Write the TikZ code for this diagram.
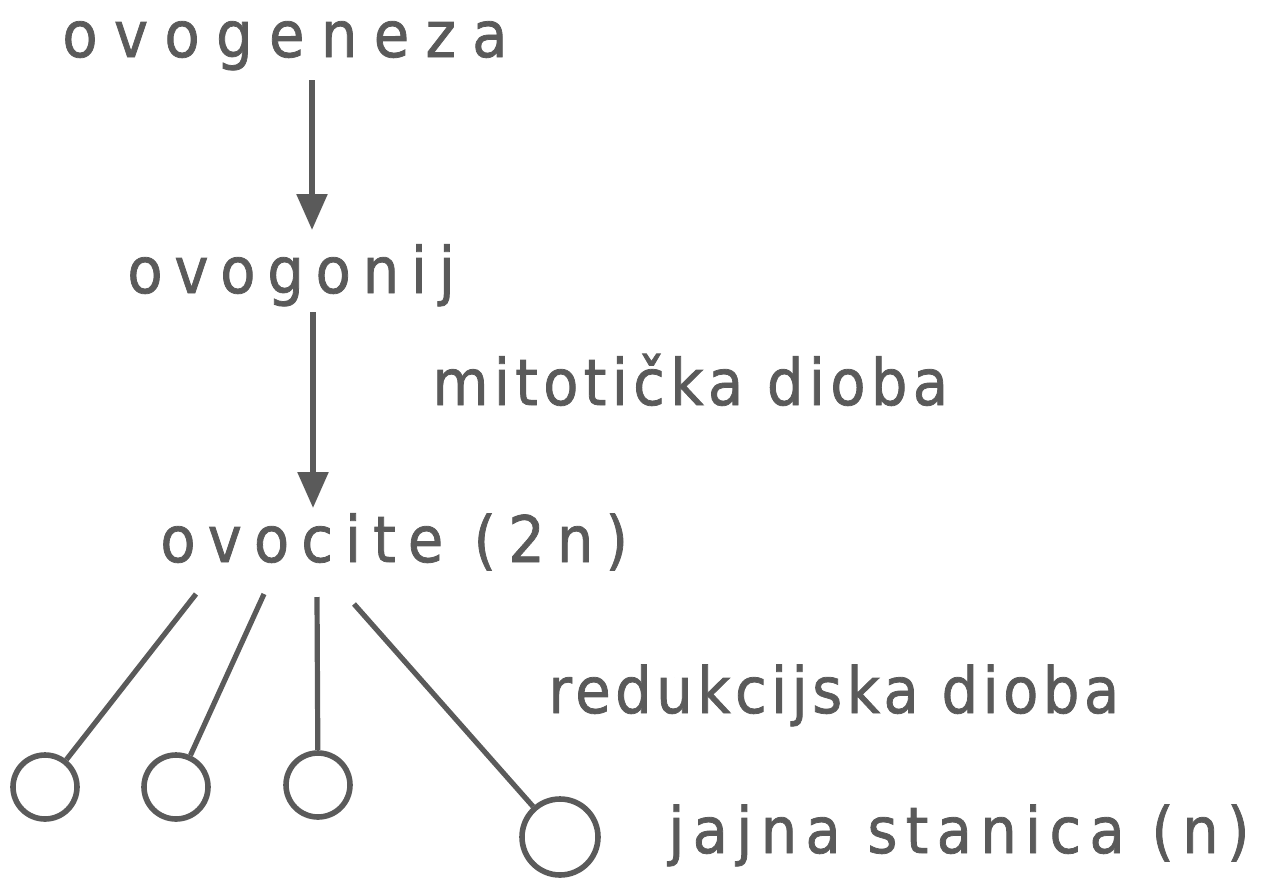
\documentclass[tikz,border=0pt]{standalone}
\usepackage{fontspec}
\setmainfont{DejaVu Sans}[FakeStretch=0.9,FakeBold=1.2]
\usetikzlibrary{arrows.meta}
\definecolor{ink}{RGB}{90,90,90}
\tikzset{
  lbl/.style={text=ink, inner sep=0pt, anchor=base west, font=\fontsize{32}{36}\selectfont},
  flow/.style={draw=ink, line width=2.8pt, -{Triangle[width=15pt,length=18pt]}},
  stem/.style={draw=ink, line width=2.6pt},
  cell/.style={circle, draw=ink, line width=2.8pt, inner sep=0pt, minimum size=#1},
}
\begin{document}
\begin{tikzpicture}[x=0.5pt,y=-0.5pt]
\useasboundingbox (0,0) rectangle (1262,878);
% labels
\node[lbl] (geneza)  at (62,57)   {\addfontfeature{LetterSpace=25.6}ovogeneza};
\node[lbl] (gonij)   at (127,293) {\addfontfeature{LetterSpace=18.4}ovogonij};
\node[lbl] (mitoza)  at (432,405) {\addfontfeature{LetterSpace=8.4}mitotička dioba};
\node[lbl] (ocite)   at (160,562) {\addfontfeature{LetterSpace=18.9}ovocite (2n)};
\node[lbl] (redukc)  at (548,713) {\addfontfeature{LetterSpace=7}redukcijska dioba};
\node[lbl] (jajna)   at (668,853) {\addfontfeature{LetterSpace=13}jajna stanica (n)};
% cells
\node[cell=32pt] (c1) at (45,787)  {};
\node[cell=32pt] (c2) at (176,787) {};
\node[cell=32pt] (c3) at (318,785) {};
\node[cell=38pt] (c4) at (560,837) {};
% connector ends
\coordinate (a1s) at (312,80);
\coordinate (a1e) at (312,230);
\coordinate (a2s) at (313,312);
\coordinate (a2e) at (313,508);
\coordinate (s1) at (196,594);
\coordinate (s2) at (264,594);
\coordinate (s3) at (317,597);
\coordinate (s4) at (354,604);
% arrows
\draw[flow] (a1s) -- (a1e);
\draw[flow] (a2s) -- (a2e);
% stems to the cells
\draw[stem] (s1) -- (c1);
\draw[stem] (s2) -- (c2);
\draw[stem] (s3) -- (c3);
\draw[stem] (s4) -- (c4);
\end{tikzpicture}
\end{document}
